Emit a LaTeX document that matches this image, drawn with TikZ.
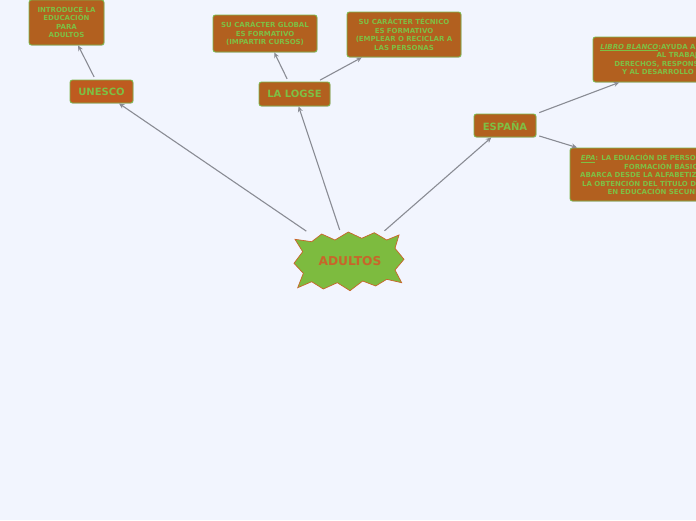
\documentclass[tikz,border=0pt]{standalone}
\usepackage{fontspec}
\setmainfont{DejaVu Sans}
\usetikzlibrary{arrows.meta,shadows}
\definecolor{bgc}{HTML}{F2F5FE}
\definecolor{boxfill}{HTML}{B2601F}
\definecolor{boxfillb}{HTML}{BE5B1F}
\definecolor{boxline}{HTML}{7DB54A}
\definecolor{txtgreen}{HTML}{7EC044}
\definecolor{conncol}{HTML}{8A8C94}
\definecolor{burstfill}{HTML}{7DBB3F}
\definecolor{burstline}{HTML}{C8652A}
\tikzset{
  mbox/.style={draw=boxline, fill=boxfill, line width=0.9pt, rounded corners=2.5pt,
    inner sep=0pt, text=txtgreen, align=center,
    drop shadow={shadow xshift=0.6pt, shadow yshift=-0.8pt, opacity=0.25}},
  bigtxt/.style={font=\bfseries\fontsize{10}{12}\selectfont},
  smalltxt/.style={font=\bfseries\fontsize{6.95}{8.6}\selectfont},
  conn/.style={draw=conncol, line width=1.1pt, shorten <=3pt,
    -{Stealth[length=5.5pt,width=5pt]}}
}
\begin{document}
\begin{tikzpicture}[x=1pt,y=-1pt]
\clip (0,0) rectangle (696,520);
\fill[bgc] (0,0) rectangle (696,520);

% central starburst
\draw[fill=burstfill, draw=burstline, line width=0.7pt, line join=miter]
 (295,239.3) -- (311.7,241.7) -- (321.7,234) -- (335,240) -- (348.3,232) --
 (361.7,238.3) -- (374.3,232.7) -- (386.7,240) -- (399,235) -- (395,248.3) --
 (404,259.3) -- (395,270) -- (401.7,282.7) -- (386.7,279.3) -- (375.7,286) --
 (362.7,281) -- (350,290.7) -- (337.3,282.7) -- (323.3,289) -- (311.7,281.7) --
 (297.7,287.7) -- (303.3,273.3) -- (294,263.3) -- (302.7,251.7) -- cycle;
\node[font=\bfseries\fontsize{12.2}{14}\selectfont, text=burstline,
  minimum width=110pt, minimum height=56pt, inner sep=0pt] (adultos) at (350,261) {ADULTOS};

% first level
\node[mbox, fill=boxfillb, bigtxt, minimum width=63pt, minimum height=23pt] (unesco) at (101.5,91.5) {UNESCO};
\node[mbox, bigtxt, minimum width=71pt, minimum height=24pt] (logse) at (294.5,94) {LA LOGSE};
\node[mbox, bigtxt, minimum width=62pt, minimum height=23pt] (espana) at (505,125.5) {ESPAÑA};

% second level
\node[mbox, smalltxt, minimum width=75pt, minimum height=45pt] (intro) at (66.5,22.5)
  {INTRODUCE LA\\EDUCACIÓN\\PARA\\ADULTOS};
\node[mbox, smalltxt, minimum width=104pt, minimum height=37pt] (global) at (265,33.5)
  {SU CARÁCTER GLOBAL\\ES FORMATIVO\\(IMPARTIR CURSOS)};
\node[mbox, smalltxt, minimum width=114pt, minimum height=45pt] (tecnico) at (404,34.5)
  {SU CARÁCTER TÉCNICO\\ES FORMATIVO\\(EMPLEAR O RECICLAR A\\LAS PERSONAS};
\node[mbox, smalltxt, minimum width=174pt, minimum height=45pt] (libro) at (680,59.5)
  {\underline{\textit{LIBRO BLANCO}}:AYUDA A INCORPORARSE\\AL TRABAJO\\DERECHOS, RESPONSABILIDADES\\Y AL DESARROLLO PERSONAL};
\node[mbox, smalltxt, minimum width=190pt, minimum height=53pt] (epa) at (665,174.5)
  {\underline{\textit{EPA}}: LA EDUACIÓN DE PERSONAS ADULTAS\\FORMACIÓN BÁSICA,\\ABARCA DESDE LA ALFABETIZACIÓN HASTA\\LA OBTENCIÓN DEL TÍTULO DE GRADUADO\\EN EDUCACIÓN SECUNDARIA.};

% connectors
\draw[conn] (adultos) -- (unesco);
\draw[conn] (adultos) -- (logse);
\draw[conn] (adultos) -- (espana);
\draw[conn] (unesco) -- (intro);
\draw[conn] (logse) -- (global);
\draw[conn] (logse) -- (tecnico);
\draw[conn] (espana) -- (libro);
\draw[conn] (espana) -- (epa);
\end{tikzpicture}
\end{document}
